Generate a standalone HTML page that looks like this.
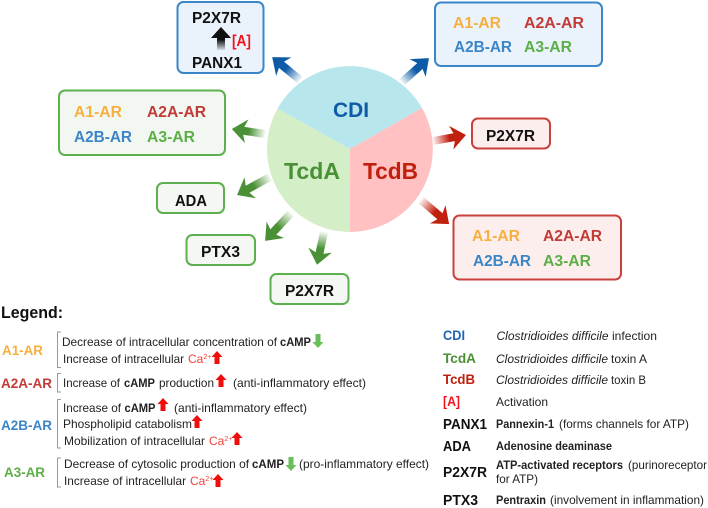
<!DOCTYPE html>
<html><head><meta charset="utf-8"><style>
html,body{margin:0;padding:0;background:#fff}
svg{display:block}
text{font-family:"Liberation Sans",sans-serif;fill:#222;font-size:12px}
.b{font-weight:700}
.i{font-style:italic}
.k{font-weight:700;font-size:15.5px;fill:#111}
.k2{font-weight:700;font-size:14.5px;fill:#111}
.bx{font-weight:700;font-size:15.5px}
.bs{font-weight:700;font-size:14px}
.l{font-weight:700;font-size:14px}
.o{fill:#F5B041}.r{fill:#C23B36}.u{fill:#3B85C6}.g{fill:#5CAF47}
.ca{fill:#F4403A}
</style></head><body>
<svg width="708" height="508" viewBox="0 0 708 508" xmlns="http://www.w3.org/2000/svg">
<defs>
<linearGradient id="gb" x1="0" x2="1" y1="0" y2="0"><stop offset="0" stop-color="#0D5BA7" stop-opacity=".05"/><stop offset=".5" stop-color="#0D5BA7"/></linearGradient>
<linearGradient id="gr" x1="0" x2="1" y1="0" y2="0"><stop offset="0" stop-color="#C2200F" stop-opacity=".05"/><stop offset=".5" stop-color="#C2200F"/></linearGradient>
<linearGradient id="gg" x1="0" x2="1" y1="0" y2="0"><stop offset="0" stop-color="#4A9035" stop-opacity=".05"/><stop offset=".5" stop-color="#4A9035"/></linearGradient>
<linearGradient id="gk" x1="0" x2="0" y1="0" y2="1"><stop offset=".55" stop-color="#111"/><stop offset="1" stop-color="#111" stop-opacity=".1"/></linearGradient>
<polygon id="up" points="0,0 5.5,6 2.5,6 2.5,13 -2.5,13 -2.5,6 -5.5,6" fill="#F20D0D"/>
<polygon id="dn" points="0,14 5.5,8 2.5,8 2.5,0 -2.5,0 -2.5,8 -5.5,8" fill="#68BE58"/>
</defs>

<path d="M350 149L277.500 108.600A83 83 0 0 1 422 108Z" fill="#B7E6EC"/>
<path d="M350 149L422 108A83 83 0 0 1 350 232Z" fill="#FFC1C1"/>
<path d="M350 149L350 232A83 83 0 0 1 277.500 108.600Z" fill="#D4EEC8"/>
<text x="333" y="117" class="b" style="font-size:21.5px;fill:#0F5BA8" textLength="36" lengthAdjust="spacingAndGlyphs">CDI</text>
<text x="284" y="179" class="b" style="font-size:23px;fill:#4A9035" textLength="56" lengthAdjust="spacingAndGlyphs">TcdA</text>
<text x="363" y="179" class="b" style="font-size:23px;fill:#C2200F" textLength="55" lengthAdjust="spacingAndGlyphs">TcdB</text>

<g fill="url(#gb)">
<polygon transform="translate(300 80) rotate(-140.600)" points="0,-4 24,-4 21,-12 36,0 21,12 24,4 0,4"/>
<polygon transform="translate(402 82) rotate(-41.600)" points="0,-4 24,-4 21,-12 36,0 21,12 24,4 0,4"/>
</g>
<g fill="url(#gr)">
<polygon transform="translate(433 141) rotate(-10.300)" points="0,-4 21.500,-4 18.500,-12 33.500,0 18.500,12 21.500,4 0,4"/>
<polygon transform="translate(421 200) rotate(40.600)" points="0,-4 25,-4 22,-12 37,0 22,12 25,4 0,4"/>
</g>
<g fill="url(#gg)">
<polygon transform="translate(265 134) rotate(188.600)" points="0,-4 21.500,-4 18.500,-12 33.500,0 18.500,12 21.500,4 0,4"/>
<polygon transform="translate(270 177) rotate(151.400)" points="0,-4 25.500,-4 22.500,-12 37.500,0 22.500,12 25.500,4 0,4"/>
<polygon transform="translate(291 213) rotate(132.900)" points="0,-4 26,-4 23,-12 38,0 23,12 26,4 0,4"/>
<polygon transform="translate(324 232) rotate(102)" points="0,-4 21.500,-4 18.500,-12 33.500,0 18.500,12 21.500,4 0,4"/>
</g>

<g stroke-width="2">
<rect x="177.500" y="2" width="86" height="71" rx="6" fill="#EAF2FB" stroke="#3A86C8"/>
<rect x="435" y="2.500" width="167" height="63.500" rx="6" fill="#EAF2FB" stroke="#3A86C8"/>
<rect x="59" y="90.500" width="166" height="64.500" rx="6" fill="#F3F7F1" stroke="#5DB04E"/>
<rect x="157" y="183" width="67" height="30" rx="6" fill="#F4F7F2" stroke="#5DB04E"/>
<rect x="186.500" y="235" width="68.500" height="30" rx="6" fill="#F4F7F2" stroke="#5DB04E"/>
<rect x="270.500" y="274" width="78" height="30" rx="6" fill="#F4F7F2" stroke="#5DB04E"/>
<rect x="472" y="118.500" width="78" height="30" rx="6" fill="#FDEEEE" stroke="#C9403C"/>
<rect x="453.500" y="215.500" width="167.500" height="64" rx="6" fill="#FDEEEE" stroke="#C9403C"/>
</g>

<text x="192" y="23" class="k" textLength="49" lengthAdjust="spacingAndGlyphs">P2X7R</text>
<text x="192" y="68" class="k" textLength="50" lengthAdjust="spacingAndGlyphs">PANX1</text>
<text x="232" y="46" class="b" style="font-size:15.500px;fill:#F2141A" textLength="19" lengthAdjust="spacingAndGlyphs">[A]</text>
<polygon points="221,27 231,38 225,38 225,50 217,50 217,38 211,38" fill="url(#gk)"/>

<text x="453" y="28" class="bx o" textLength="48" lengthAdjust="spacingAndGlyphs">A1-AR</text>
<text x="524" y="28" class="bx r" textLength="60" lengthAdjust="spacingAndGlyphs">A2A-AR</text>
<text x="454" y="52" class="bx u" textLength="58" lengthAdjust="spacingAndGlyphs">A2B-AR</text>
<text x="524" y="52" class="bx g" textLength="48" lengthAdjust="spacingAndGlyphs">A3-AR</text>

<text x="472" y="241" class="bx o" textLength="48" lengthAdjust="spacingAndGlyphs">A1-AR</text>
<text x="543" y="241" class="bx r" textLength="59" lengthAdjust="spacingAndGlyphs">A2A-AR</text>
<text x="473" y="266" class="bx u" textLength="58" lengthAdjust="spacingAndGlyphs">A2B-AR</text>
<text x="543" y="266" class="bx g" textLength="48" lengthAdjust="spacingAndGlyphs">A3-AR</text>

<text x="74" y="117" class="bx o" textLength="48" lengthAdjust="spacingAndGlyphs">A1-AR</text>
<text x="147" y="117" class="bx r" textLength="59" lengthAdjust="spacingAndGlyphs">A2A-AR</text>
<text x="74" y="142" class="bx u" textLength="58" lengthAdjust="spacingAndGlyphs">A2B-AR</text>
<text x="147" y="142" class="bx g" textLength="48" lengthAdjust="spacingAndGlyphs">A3-AR</text>

<text x="175" y="206" class="k" textLength="32" lengthAdjust="spacingAndGlyphs">ADA</text>
<text x="201" y="257" class="k" textLength="39" lengthAdjust="spacingAndGlyphs">PTX3</text>
<text x="285" y="296" class="k" textLength="49" lengthAdjust="spacingAndGlyphs">P2X7R</text>
<text x="486" y="141" class="k" textLength="49" lengthAdjust="spacingAndGlyphs">P2X7R</text>

<text x="1" y="318" class="b" style="font-size:17px;fill:#111" textLength="62" lengthAdjust="spacingAndGlyphs">Legend:</text>

<g fill="none" stroke="#999" stroke-width="1">
<path d="M61 332H57.500V367.500H61"/>
<path d="M61 373.500H57.500V392H61"/>
<path d="M61 399.500H57.500V448H61"/>
<path d="M61 458H57.500V487H61"/>
</g>

<text x="2" y="355" class="l o" textLength="41" lengthAdjust="spacingAndGlyphs">A1-AR</text>
<text x="1" y="388" class="l r" textLength="51" lengthAdjust="spacingAndGlyphs">A2A-AR</text>
<text x="1" y="430" class="l u" textLength="51" lengthAdjust="spacingAndGlyphs">A2B-AR</text>
<text x="4" y="477" class="l g" textLength="41" lengthAdjust="spacingAndGlyphs">A3-AR</text>

<text x="62" y="346" textLength="215" lengthAdjust="spacingAndGlyphs">Decrease of intracellular concentration of</text>
<text x="280" y="346" class="b" textLength="31" lengthAdjust="spacingAndGlyphs">cAMP</text>
<text x="63" y="363" textLength="121" lengthAdjust="spacingAndGlyphs">Increase of intracellular</text>
<text x="188" y="363" class="ca">Ca<tspan dy="-4" style="font-size:7px">2+</tspan></text>

<text x="63" y="387" textLength="57" lengthAdjust="spacingAndGlyphs">Increase of</text>
<text x="124" y="387" class="b" textLength="31" lengthAdjust="spacingAndGlyphs">cAMP</text>
<text x="159" y="387" textLength="55" lengthAdjust="spacingAndGlyphs">production</text>
<text x="233" y="387" textLength="133" lengthAdjust="spacingAndGlyphs">(anti-inflammatory effect)</text>

<text x="63" y="412" textLength="58" lengthAdjust="spacingAndGlyphs">Increase of</text>
<text x="124.500" y="412" class="b" textLength="31" lengthAdjust="spacingAndGlyphs">cAMP</text>
<text x="174" y="412" textLength="133" lengthAdjust="spacingAndGlyphs">(anti-inflammatory effect)</text>
<text x="63" y="428" textLength="129" lengthAdjust="spacingAndGlyphs">Phospholipid catabolism</text>
<text x="64" y="445" textLength="141" lengthAdjust="spacingAndGlyphs">Mobilization of intracellular</text>
<text x="209" y="445" class="ca">Ca<tspan dy="-4" style="font-size:7px">2+</tspan></text>

<text x="64" y="468" textLength="185" lengthAdjust="spacingAndGlyphs">Decrease of cytosolic production of</text>
<text x="252" y="468" class="b" textLength="32" lengthAdjust="spacingAndGlyphs">cAMP</text>
<text x="299" y="468" textLength="130" lengthAdjust="spacingAndGlyphs">(pro-inflammatory effect)</text>
<text x="64" y="485" textLength="122" lengthAdjust="spacingAndGlyphs">Increase of intracellular</text>
<text x="190" y="485" class="ca">Ca<tspan dy="-4" style="font-size:7px">2+</tspan></text>

<use href="#dn" x="318" y="334"/>
<use href="#up" x="217" y="351"/>
<use href="#up" x="221" y="374"/>
<use href="#up" x="163" y="398"/>
<use href="#up" x="197" y="415"/>
<use href="#up" x="237" y="432"/>
<use href="#dn" x="291" y="457"/>
<use href="#up" x="218" y="474"/>

<text x="443" y="340" class="bs" style="fill:#1F66B0" textLength="22" lengthAdjust="spacingAndGlyphs">CDI</text>
<text x="443" y="363" class="bs" style="fill:#4A9035" textLength="33" lengthAdjust="spacingAndGlyphs">TcdA</text>
<text x="443" y="384" class="bs" style="fill:#C2200F" textLength="32" lengthAdjust="spacingAndGlyphs">TcdB</text>
<text x="443" y="406" class="bs" style="fill:#F2141A" textLength="17" lengthAdjust="spacingAndGlyphs">[A]</text>
<text x="443" y="429" class="k2" textLength="44" lengthAdjust="spacingAndGlyphs">PANX1</text>
<text x="443" y="451" class="k2" textLength="28" lengthAdjust="spacingAndGlyphs">ADA</text>
<text x="443" y="477" class="k2" textLength="44" lengthAdjust="spacingAndGlyphs">P2X7R</text>
<text x="443" y="505" class="k2" textLength="35" lengthAdjust="spacingAndGlyphs">PTX3</text>

<text x="496.500" y="340" class="i" textLength="112" lengthAdjust="spacingAndGlyphs">Clostridioides difficile</text>
<text x="612" y="340" textLength="45" lengthAdjust="spacingAndGlyphs">infection</text>
<text x="496" y="363" class="i" textLength="112" lengthAdjust="spacingAndGlyphs">Clostridioides difficile</text>
<text x="611" y="363" textLength="36" lengthAdjust="spacingAndGlyphs">toxin A</text>
<text x="496" y="384" class="i" textLength="112" lengthAdjust="spacingAndGlyphs">Clostridioides difficile</text>
<text x="611" y="384" textLength="35" lengthAdjust="spacingAndGlyphs">toxin B</text>
<text x="496" y="406" textLength="52" lengthAdjust="spacingAndGlyphs">Activation</text>
<text x="496" y="428" class="b" textLength="58" lengthAdjust="spacingAndGlyphs">Pannexin-1</text>
<text x="559" y="428" textLength="130" lengthAdjust="spacingAndGlyphs">(forms channels for ATP)</text>
<text x="496" y="450" class="b" textLength="116" lengthAdjust="spacingAndGlyphs">Adenosine deaminase</text>
<text x="496" y="469" class="b" textLength="127" lengthAdjust="spacingAndGlyphs">ATP-activated receptors</text>
<text x="628" y="469" textLength="79" lengthAdjust="spacingAndGlyphs">(purinoreceptor</text>
<text x="496" y="483" textLength="42" lengthAdjust="spacingAndGlyphs">for ATP)</text>
<text x="496" y="504" class="b" textLength="50" lengthAdjust="spacingAndGlyphs">Pentraxin</text>
<text x="550" y="504" textLength="154" lengthAdjust="spacingAndGlyphs">(involvement in inflammation)</text>
</svg>
</body></html>
